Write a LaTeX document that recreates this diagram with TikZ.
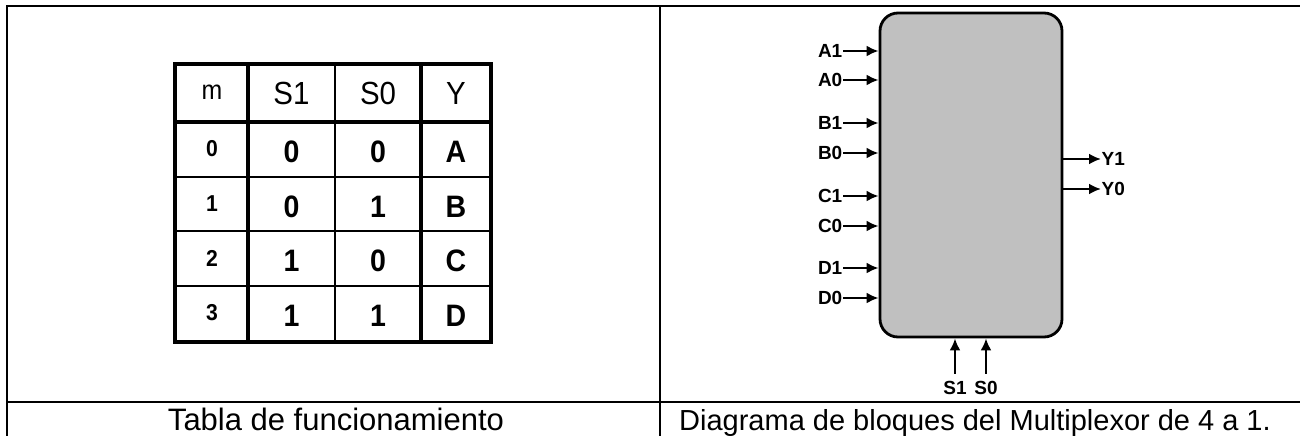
\documentclass[tikz,border=0pt]{standalone}
\usepackage{fontspec}
\setmainfont{Liberation Sans}
\newfontfamily\tabfont[FakeStretch=0.92]{Liberation Sans}
\usetikzlibrary{arrows.meta}
\definecolor{muxgray}{HTML}{C0C0C0}
\newcommand{\fs}[1]{\fontsize{#1}{#1}\selectfont}
\begin{document}
\begin{tikzpicture}[x=1pt, y=-1pt, >={Latex[length=12pt,width=11pt]},
  frame/.style={line width=2.2pt},
  thickrule/.style={line width=3.6pt},
  thinrule/.style={line width=2.4pt},
  head/.style={inner sep=0pt, font=\tabfont\fs{32}},
  cell/.style={inner sep=0pt, font=\tabfont\fs{31}\bfseries},
  pinlbl/.style={inner sep=0.5pt, font=\fs{19}\bfseries},
  sig/.style={->, line width=2.4pt}]
  \useasboundingbox (0,0) rectangle (1300,436);
  % outer frame and panels
  \draw[frame] (1300,6) -- (7,6) -- (7,436);
  \draw[frame] (660,6) -- (660,436);
  \draw[frame] (7,402) -- (1300,402);
  \node[inner sep=0pt, anchor=base, font=\fs{31}] (capL) at (336,430) {Tabla de funcionamiento};
  \node[inner sep=0pt, anchor=base, font=\fs{29}] (capR) at (975,430) {Diagrama de bloques del Multiplexor de 4 a 1.};
  % truth table
  \draw[thickrule] (175,64) rectangle (491,342);
  \draw[thickrule] (175,122) -- (491,122);
  \foreach \y in {177,231,286} \draw[thinrule] (175,\y) -- (491,\y);
  \draw[thickrule] (248,64) -- (248,342);
  \draw[thickrule] (421,64) -- (421,342);
  \draw[line width=1.8pt] (335,64) -- (335,342);
  \node[head, font=\tabfont\fs{27}] (hm) at (212,92) {m};
  \node[head] (hs1) at (291.5,93) {S1};
  \node[head] (hs0) at (378,93) {S0};
  \node[head] (hy) at (456,93) {Y};
  \foreach \m/\a/\b/\out/\y in {0/0/0/A/150, 1/0/1/B/205, 2/1/0/C/259, 3/1/1/D/314} {
    \node[cell, font=\tabfont\fs{23}\bfseries] (cm\m) at (212,\y-1) {\m};
    \node[cell] (cs1\m) at (291.5,\y+2) {\a};
    \node[cell] (cs0\m) at (378,\y+2) {\b};
    \node[cell] (cy\m) at (456,\y+2) {\out};
  }
  % multiplexer block
  \node[draw, line width=2.8pt, fill=muxgray, rounded corners=18pt,
    minimum width=182pt, minimum height=324pt, inner sep=0pt] (mux) at (971,175) {};
  \foreach \name/\y in {A1/51, A0/80, B1/123, B0/153, C1/196, C0/226, D1/268, D0/298} {
    \node[pinlbl, anchor=east] (l\name) at (843,\y) {\name};
    \draw[sig] (l\name.east) -- (l\name.east -| mux.west);
  }
  \foreach \name/\y in {Y1/159, Y0/189} {
    \node[pinlbl, anchor=west] (l\name) at (1101,\y) {\name};
    \draw[sig] (l\name.west -| mux.east) -- (l\name.west);
  }
  \foreach \name/\x in {S1/955, S0/986} {
    \node[pinlbl] (l\name) at (\x,388) {\name};
    \draw[sig, shorten <=7pt] (l\name.north) -- (l\name.north |- mux.south);
  }
\end{tikzpicture}
\end{document}
